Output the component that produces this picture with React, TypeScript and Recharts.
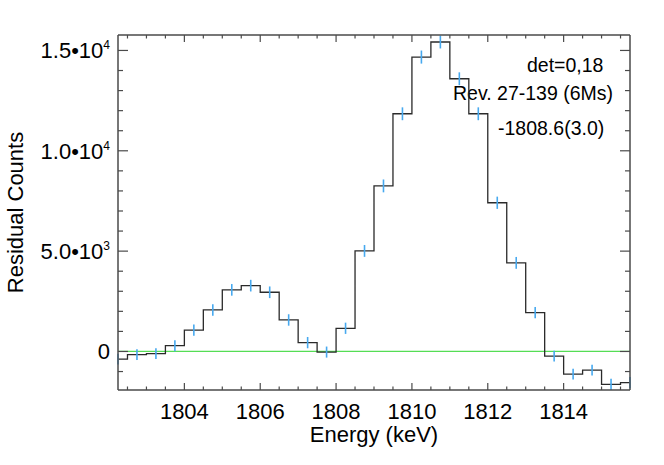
import React from "react";
import {
  ComposedChart,
  Line,
  Scatter,
  ErrorBar,
  XAxis,
  YAxis,
  ReferenceLine,
  Customized,
} from "recharts";

// ---- data ----
const energies = [
  1802.25, 1802.75, 1803.25, 1803.75, 1804.25, 1804.75, 1805.25, 1805.75,
  1806.25, 1806.75, 1807.25, 1807.75, 1808.25, 1808.75, 1809.25, 1809.75,
  1810.25, 1810.75, 1811.25, 1811.75, 1812.25, 1812.75, 1813.25, 1813.75,
  1814.25, 1814.75, 1815.25, 1815.75,
];
const residuals = [
  -380, -160, -110, 290, 1060, 2070, 3070, 3280, 2950, 1570, 440, -30, 1155,
  5010, 8250, 11845, 14670, 15420, 13590, 11845, 7410, 4415, 1937, -230, -1130,
  -930, -1640, -1550,
];
const errors = [
  270, 270, 270, 275, 280, 285, 290, 290, 290, 285, 280, 275, 280, 295, 320,
  320, 325, 320, 320, 320, 305, 295, 285, 270, 270, 270, 280, 280,
];

const xMajorTicks = [1804, 1806, 1808, 1810, 1812, 1814];
const xTickLabels = ["1804", "1806", "1808", "1810", "1812", "1814"];
const xAllTicks = [
  1802.5, 1803, 1803.5, 1804, 1804.5, 1805, 1805.5, 1806, 1806.5, 1807,
  1807.5, 1808, 1808.5, 1809, 1809.5, 1810, 1810.5, 1811, 1811.5, 1812,
  1812.5, 1813, 1813.5, 1814, 1814.5, 1815, 1815.5,
];
const yMajorTicks = [0, 5000, 10000, 15000];
const yTickMantissas = ["0", "5.0\u202210", "1.0\u202210", "1.5\u202210"];
const yTickExponents = ["", "3", "4", "4"];
const yAllTicks = [
  -1000, 0, 1000, 2000, 3000, 4000, 5000, 6000, 7000, 8000, 9000, 10000,
  11000, 12000, 13000, 14000, 15000,
];

const xDomain = [1802.25, 1815.75];
const yDomain = [-1920, 15770];

const annotations = ["det=0,18", "Rev. 27-139 (6Ms)", "-1808.6(3.0)"];
const xTitle = "Energy (keV)";
const yTitle = "Residual Counts";

const data = energies.map((e, i) => ({
  energy: e,
  residual: residuals[i],
  err: errors[i],
}));

// ---- styling ----
const FONT = "'Liberation Sans', Arial, Helvetica, sans-serif";
const AXIS = "#4a4a4a";
const W = 664;
const H = 465;
// axes take 1px each; plot box: left 118, right 630, top 35, bottom 390
const M = { top: 34, right: 33, bottom: 74, left: 117 };

const XTickBottom = (props: any) => {
  const { x, y, payload } = props;
  const idx = xMajorTicks.indexOf(payload.value);
  const major = idx >= 0;
  return (
    <g>
      <line x1={x} x2={x} y1={y} y2={y - (major ? 7 : 3.5)} stroke={AXIS} strokeWidth={1.2} />
      {major && (
        <text x={x} y={y + 28.5} textAnchor="middle" fontSize={22} fontFamily={FONT} fill="#000">
          {xTickLabels[idx]}
        </text>
      )}
    </g>
  );
};

const XTickTop = (props: any) => {
  const { x, y, payload } = props;
  const major = xMajorTicks.indexOf(payload.value) >= 0;
  return (
    <line x1={x} x2={x} y1={y} y2={y + (major ? 7 : 3.5)} stroke={AXIS} strokeWidth={1.2} />
  );
};

const YTickLeft = (props: any) => {
  const { x, y, payload } = props;
  const idx = yMajorTicks.indexOf(payload.value);
  const major = idx >= 0;
  return (
    <g>
      <line x1={x} x2={x + (major ? 10 : 5)} y1={y} y2={y} stroke={AXIS} strokeWidth={1.2} />
      {major && (
        <text x={x - 8} y={y + 8} textAnchor="end" fontSize={22} fontFamily={FONT} fill="#000">
          {yTickMantissas[idx]}
          {yTickExponents[idx] && (
            <tspan dy={-9} fontSize={12}>
              {yTickExponents[idx]}
            </tspan>
          )}
        </text>
      )}
    </g>
  );
};

const YTickRight = (props: any) => {
  const { x, y, payload } = props;
  const major = yMajorTicks.indexOf(payload.value) >= 0;
  return (
    <line x1={x} x2={x - (major ? 10 : 5)} y1={y} y2={y} stroke={AXIS} strokeWidth={1.2} />
  );
};

const Texts = () => (
  <g fontFamily={FONT} fill="#000">
    <text x={527} y={71.5} fontSize={19.5}>
      {annotations[0]}
    </text>
    <text x={453} y={100} fontSize={19.5}>
      {annotations[1]}
    </text>
    <text x={498} y={135} fontSize={19.5}>
      {annotations[2]}
    </text>
    <text x={374} y={442} textAnchor="middle" fontSize={22}>
      {xTitle}
    </text>
    <text x={23} y={212.5} textAnchor="middle" fontSize={22} transform="rotate(-90 23 212.5)">
      {yTitle}
    </text>
  </g>
);

export default function App() {
  return (
    <div style={{ position: "absolute", left: 0, top: 0, width: W, height: H, background: "#fff" }}>
      <ComposedChart width={W} height={H} data={data} margin={M}>
        <XAxis
          xAxisId="b"
          dataKey="energy"
          type="number"
          domain={xDomain}
          allowDataOverflow
          ticks={xAllTicks}
          interval={0}
          tickSize={0}
          tickMargin={0}
          height={1}
          tick={<XTickBottom />}
          axisLine={{ stroke: AXIS, strokeWidth: 1.5 }}
          orientation="bottom"
        />
        <XAxis
          xAxisId="t"
          dataKey="energy"
          type="number"
          domain={xDomain}
          allowDataOverflow
          ticks={xAllTicks}
          interval={0}
          tickSize={0}
          tickMargin={0}
          height={1}
          tick={<XTickTop />}
          axisLine={{ stroke: AXIS, strokeWidth: 1.5 }}
          orientation="top"
        />
        <YAxis
          yAxisId="l"
          type="number"
          domain={yDomain}
          allowDataOverflow
          ticks={yAllTicks}
          interval={0}
          tickSize={0}
          tickMargin={0}
          width={1}
          tick={<YTickLeft />}
          axisLine={{ stroke: AXIS, strokeWidth: 1.5 }}
          orientation="left"
        />
        <YAxis
          yAxisId="r"
          type="number"
          domain={yDomain}
          allowDataOverflow
          ticks={yAllTicks}
          interval={0}
          tickSize={0}
          tickMargin={0}
          width={1}
          tick={<YTickRight />}
          axisLine={{ stroke: AXIS, strokeWidth: 1.5 }}
          orientation="right"
        />
        <ReferenceLine xAxisId="b" yAxisId="l" y={0} stroke="#55dd55" strokeWidth={1.2} />
        <Line
          xAxisId="b"
          yAxisId="l"
          dataKey="residual"
          type="step"
          stroke="#2a2a2a"
          strokeWidth={1.3}
          dot={false}
          activeDot={false}
          isAnimationActive={false}
        />
        <Scatter
          xAxisId="b"
          yAxisId="l"
          dataKey="residual"
          shape={() => <g />}
          isAnimationActive={false}
        >
          <ErrorBar dataKey="err" direction="y" width={0.01} stroke="#47a9ef" strokeWidth={1.6} isAnimationActive={false} />
        </Scatter>
        <Customized component={Texts} />
      </ComposedChart>
    </div>
  );
}
